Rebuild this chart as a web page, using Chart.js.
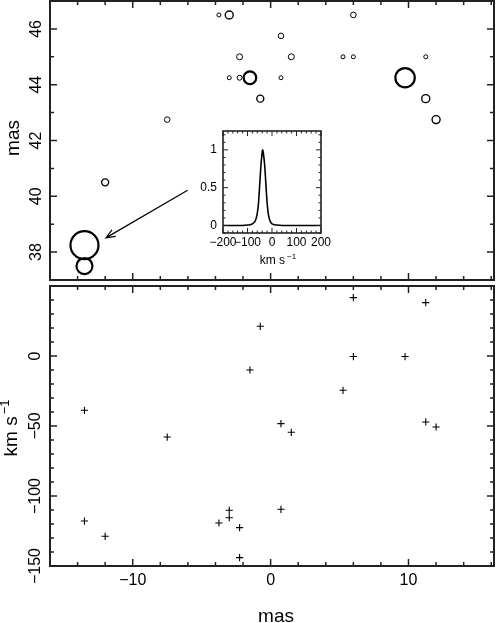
<!DOCTYPE html>
<html>
<head>
<meta charset="utf-8">
<script src="https://cdn.jsdelivr.net/npm/chart.js@4"></script>
<style>
    body { margin: 0; background: #fff; }
    .page { position: relative; width: 496px; height: 623px; background: #fff; overflow: hidden; }
    canvas { position: absolute; }
</style>
</head>
<body>
<div class="page">
    <canvas id="mapChart" width="496" height="284" style="left:0;top:0"></canvas>
    <canvas id="velChart" width="496" height="339" style="left:0;top:284px"></canvas>
    <canvas id="specChart" width="160" height="160" style="left:180px;top:120px"></canvas>
</div>
<script>
// maser spots: position (mas), symbol size, velocity (km/s)
const spotX = [-3.75, -3.0, 6.0, 0.75, -2.25, 1.5, 5.25, 6.0, 11.25, -3.0, -2.25, -1.5, 0.75, 9.75, -0.75, 11.25, -7.5, 12.0, -12.0, -13.5, -13.5];
const spotY = [46.5, 46.5, 46.5, 45.75, 45.0, 45.0, 45.0, 45.0, 45.0, 44.25, 44.25, 44.25, 44.25, 44.25, 43.5, 43.5, 42.75, 42.75, 40.5, 38.25, 37.5];
const spotSize = [2, 4, 2.8, 2.8, 3, 3, 2, 2, 2, 2, 2.5, 6.3, 2, 9.7, 3.5, 4, 2.8, 4, 3.5, 14, 8];
const spotVel = [-119.3, -110.2, 41.7, -48.3, -122.6, -54.5, -24.5, -0.4, 38.1, -115.5, -144, -10, -109.5, -0.4, 21.2, -47.1, -57.9, -50.7, -128.8, -38.8, -117.9];

// spectrum of the brightest spot (inset)
const specVel = [-200, -150, -120, -100, -90, -80, -70, -65, -60, -55, -50, -45, -40, -38, -35, -30, -25, -20, -15, -10, -5, 0, 10, 20, 40, 100, 200];
const specFlux = [0, 0, 0, 0.005, 0.01, 0.02, 0.05, 0.09, 0.16, 0.3, 0.55, 0.8, 0.97, 1.0, 0.95, 0.8, 0.55, 0.3, 0.15, 0.08, 0.04, 0.02, 0.01, 0.005, 0, 0, 0];

// axes
const xRange = [-16, 16.2];
const mapYRange = [37, 47];
const velYRange = [-150, 50];
const specXRange = [-200, 200];
const specYRange = [-0.1, 1.25];
const xTickLabels = [-10, 0, 10];
const mapYTickLabels = [38, 40, 42, 44, 46];
const velYTickLabels = [-150, -100, -50, 0];
const specXTickLabels = [-200, -100, 0, 100, 200];
const specYTickLabels = [0, 0.5, 1];

// arrow from inset to the spot (data coords of the map)
const arrowFrom = [-6.02, 40.22];
const arrowTo = [-11.95, 38.51];

const FONT = "'Liberation Sans', Arial, sans-serif";
const fmt = v => (v < 0 ? "\u2212" : "") + Math.abs(v);
const isMajor = (v, step) => Math.abs(v / step - Math.round(v / step)) < 1e-6;

// PGPLOT-like box: inside ticks on all four sides, labels drawn by hand
function frame(o) {
    return {
        id: "frame",
        afterDraw(chart) {
            const { ctx, chartArea: a, scales: { x, y } } = chart;
            ctx.save();
            ctx.strokeStyle = "#222";
            ctx.lineWidth = o.tickWidth;
            ctx.beginPath();
            for (let i = Math.ceil(x.min / o.xMinor - 1e-6); i * o.xMinor <= x.max + 1e-6; i++) {
                const v = i * o.xMinor;
                const px = x.getPixelForValue(v);
                const len = isMajor(v, o.xMajor) ? o.major : o.minor;
                ctx.moveTo(px, a.bottom); ctx.lineTo(px, a.bottom - len);
                ctx.moveTo(px, a.top); ctx.lineTo(px, a.top + len);
            }
            for (let i = Math.ceil(y.min / o.yMinor - 1e-6); i * o.yMinor <= y.max + 1e-6; i++) {
                const v = i * o.yMinor;
                const py = y.getPixelForValue(v);
                const len = isMajor(v, o.yMajor) ? o.major : o.minor;
                ctx.moveTo(a.left, py); ctx.lineTo(a.left + len, py);
                ctx.moveTo(a.right, py); ctx.lineTo(a.right - len, py);
            }
            ctx.stroke();
            ctx.lineWidth = o.frameWidth;
            ctx.strokeRect(a.left, a.top, a.right - a.left, a.bottom - a.top);

            ctx.fillStyle = "#000";
            ctx.font = o.tickFont;
            if (o.xLabels) {
                ctx.textAlign = "center";
                ctx.textBaseline = "alphabetic";
                o.xLabels.forEach(v => ctx.fillText(fmt(v), x.getPixelForValue(v), a.bottom + o.xGap));
            }
            if (o.yLabels) {
                o.yLabels.forEach(v => {
                    const py = y.getPixelForValue(v);
                    if (o.rotateY) {
                        ctx.save();
                        ctx.translate(a.left - o.yGap, py);
                        ctx.rotate(-Math.PI / 2);
                        ctx.textAlign = "center";
                        ctx.textBaseline = "alphabetic";
                        ctx.fillText(fmt(v), 0, 0);
                        ctx.restore();
                    } else {
                        ctx.textAlign = "right";
                        ctx.textBaseline = "middle";
                        ctx.fillText(fmt(v), a.left - o.yGap, py);
                    }
                });
            }
            if (o.extra) o.extra(chart, ctx);
            ctx.restore();
        }
    };
}

// "km s^-1" with raised exponent, centred on (cx, cy), optionally rotated
function unitLabel(ctx, cx, cy, size, rotate) {
    ctx.save();
    ctx.translate(cx, cy);
    if (rotate) ctx.rotate(-Math.PI / 2);
    ctx.textAlign = "left";
    ctx.textBaseline = "alphabetic";
    const big = size + "px " + FONT;
    const small = Math.round(size * 0.7) + "px " + FONT;
    ctx.font = big;
    const w1 = ctx.measureText("km s").width;
    ctx.font = small;
    const w2 = ctx.measureText("\u22121").width;
    const x0 = -(w1 + 2 + w2) / 2;
    ctx.font = big;
    ctx.fillText("km s", x0, 0);
    ctx.font = small;
    ctx.fillText("\u22121", x0 + w1 + 2, -size * 0.42);
    ctx.restore();
}

function axisTitle(ctx, text, x, y, rotate) {
    ctx.save();
    ctx.translate(x, y);
    if (rotate) ctx.rotate(-Math.PI / 2);
    ctx.font = "19px " + FONT;
    ctx.textAlign = "center";
    ctx.textBaseline = "alphabetic";
    ctx.fillText(text, 0, 0);
    ctx.restore();
}

const common = {
    responsive: false,
    devicePixelRatio: 1,
    animation: false,
    events: [],
    plugins: { legend: { display: false }, tooltip: { enabled: false } }
};

//Spot map
new Chart(document.getElementById("mapChart"), {
    type: "bubble",
    data: {
        datasets: [{
            data: spotX.map((x, i) => ({ x: x, y: spotY[i], r: spotSize[i] })),
            backgroundColor: "rgba(0,0,0,0)",
            borderColor: "#000",
            borderWidth: c => (c.raw && c.raw.r >= 6 ? 2.2 : c.raw && c.raw.r >= 3.5 ? 1.4 : 1),
            clip: false
        }]
    },
    options: {
        ...common,
        layout: { autoPadding: false, padding: { left: 50, right: 2, top: 1, bottom: 4 } },
        scales: {
            x: { type: "linear", display: false, min: xRange[0], max: xRange[1] },
            y: { type: "linear", display: false, min: mapYRange[0], max: mapYRange[1] }
        }
    },
    plugins: [frame({
        xMinor: 2, xMajor: 10, yMinor: 1, yMajor: 2,
        major: 7, minor: 4, tickWidth: 1.5, frameWidth: 2,
        tickFont: "16px " + FONT,
        yLabels: mapYTickLabels, rotateY: true, yGap: 9.5,
        extra: (chart, ctx) => {
            const { x, y } = chart.scales;
            const fx = x.getPixelForValue(arrowFrom[0]), fy = y.getPixelForValue(arrowFrom[1]);
            const tx = x.getPixelForValue(arrowTo[0]), ty = y.getPixelForValue(arrowTo[1]);
            const ang = Math.atan2(ty - fy, tx - fx);
            ctx.strokeStyle = "#000";
            ctx.lineWidth = 1.2;
            ctx.beginPath();
            ctx.moveTo(fx, fy);
            ctx.lineTo(tx, ty);
            ctx.moveTo(tx - 10 * Math.cos(ang - 0.38), ty - 10 * Math.sin(ang - 0.38));
            ctx.lineTo(tx, ty);
            ctx.lineTo(tx - 10 * Math.cos(ang + 0.38), ty - 10 * Math.sin(ang + 0.38));
            ctx.stroke();
            axisTitle(ctx, "mas", 19, 138, true);
        }
    })]
});

//Velocity vs position
new Chart(document.getElementById("velChart"), {
    type: "scatter",
    data: {
        datasets: [{
            data: spotX.map((x, i) => ({ x: x, y: spotVel[i] })),
            pointStyle: "cross",
            pointRadius: 3.6,
            borderColor: "#000",
            borderWidth: 1.1
        }]
    },
    options: {
        ...common,
        layout: { autoPadding: false, padding: { left: 50, right: 2, top: 2, bottom: 57 } },
        scales: {
            x: { type: "linear", display: false, min: xRange[0], max: xRange[1] },
            y: { type: "linear", display: false, min: velYRange[0], max: velYRange[1] }
        }
    },
    plugins: [frame({
        xMinor: 2, xMajor: 10, yMinor: 10, yMajor: 50,
        major: 7, minor: 4, tickWidth: 1.5, frameWidth: 2,
        tickFont: "16px " + FONT,
        xLabels: xTickLabels, xGap: 19,
        yLabels: velYTickLabels, rotateY: true, yGap: 10,
        extra: (chart, ctx) => {
            ctx.fillStyle = "#000";
            axisTitle(ctx, "mas", 276, 337.5, false);
            unitLabel(ctx, 17, 144, 19, true);
        }
    })]
});

//Inset spectrum
new Chart(document.getElementById("specChart"), {
    type: "line",
    data: {
        datasets: [{
            data: specVel.map((v, i) => ({ x: v, y: specFlux[i] })),
            borderColor: "#000",
            borderWidth: 1.6,
            pointRadius: 0,
            tension: 0.25,
            fill: false
        }]
    },
    options: {
        ...common,
        layout: { autoPadding: false, padding: { left: 43, right: 19, top: 11, bottom: 47 } },
        scales: {
            x: { type: "linear", display: false, min: specXRange[0], max: specXRange[1] },
            y: { type: "linear", display: false, min: specYRange[0], max: specYRange[1] }
        }
    },
    plugins: [{
        id: "bg",
        beforeDraw(chart) {
            const { ctx, chartArea: a } = chart;
            ctx.save();
            ctx.fillStyle = "#fff";
            ctx.fillRect(a.left, a.top, a.right - a.left, a.bottom - a.top);
            ctx.restore();
        }
    }, frame({
        xMinor: 20, xMajor: 100, yMinor: 0.1, yMajor: 0.5,
        major: 5, minor: 2.5, tickWidth: 1, frameWidth: 1.6,
        tickFont: "12px " + FONT,
        xLabels: specXTickLabels, xGap: 13,
        yLabels: specYTickLabels, rotateY: false, yGap: 6,
        extra: (chart, ctx) => {
            const a = chart.chartArea;
            ctx.fillStyle = "#000";
            unitLabel(ctx, (a.left + a.right) / 2 + 6, a.bottom + 31, 12, false);
        }
    })]
});
</script>
</body>
</html>
